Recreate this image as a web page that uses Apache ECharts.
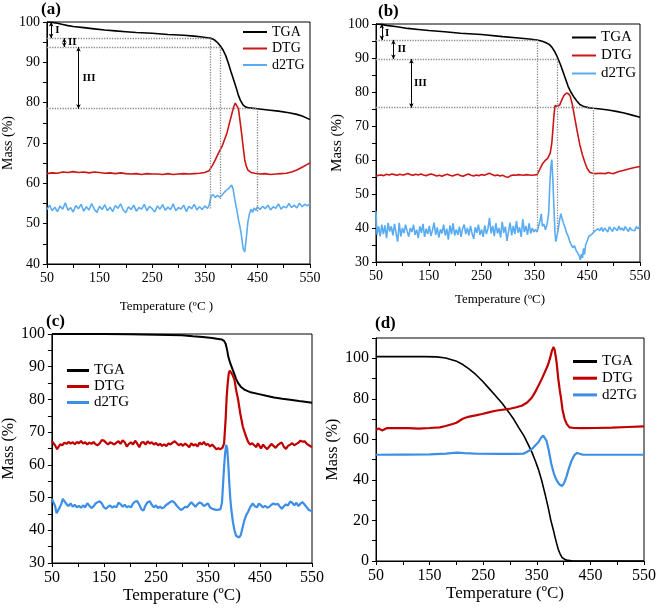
<!DOCTYPE html>
<html><head><meta charset="utf-8">
<script src="https://cdn.jsdelivr.net/npm/echarts@6/dist/echarts.min.js"></script>
<style>html,body{margin:0;padding:0;background:#fff}#c{width:659px;height:608px}</style>
</head><body><div id="c"></div>
<script>
// ---------- data (temperature °C, mass %) ----------
const aTGA = [[50,100],[60,99.9],[70,99.7],[80,99.4],[90,99.1],[100,98.9],[120,98.6],[140,98.3],[160,98.0],[180,97.8],[200,97.6],[220,97.4],[250,97.2],[280,96.9],[310,96.7],[330,96.5],[345,96.3],[355,96.1],[360,96.0],[365,95.8],[370,95.4],[375,94.8],[380,94.0],[385,93.0],[390,91.6],[395,89.7],[400,87.6],[405,85.6],[410,83.6],[414,81.8],[418,80.5],[423,79.4],[428,78.9],[435,78.7],[450,78.5],[470,78.2],[490,77.9],[510,77.5],[525,77.1],[535,76.7],[545,76.1],[550,75.8]];
const aDTG = [[50,62.4],[60,62.6],[70,62.5],[80,62.8],[90,62.7],[100,62.9],[110,62.7],[120,62.8],[130,62.6],[140,62.8],[150,62.7],[160,62.5],[170,62.6],[180,62.4],[190,62.6],[200,62.4],[210,62.3],[220,62.4],[230,62.2],[240,62.4],[250,62.3],[260,62.3],[270,62.2],[280,62.4],[290,62.2],[300,62.3],[310,62.4],[320,62.3],[330,62.4],[340,62.5],[350,62.7],[358,63.1],[365,64.5],[370,65.8],[376,67.5],[383,69.2],[388,71.0],[392,72.4],[397,75.0],[401,77.0],[405,79.0],[408,79.9],[411,80.2],[414,78.5],[417,75.5],[420,72.4],[423,69.0],[426,65.8],[429,64.2],[432,63.3],[438,62.7],[445,62.5],[455,62.3],[465,62.4],[475,62.2],[485,62.3],[495,62.4],[505,62.5],[515,62.8],[525,63.3],[535,64.0],[545,64.7],[550,65.1]];
const aD2TG = [[50,53.5],[55,54.6],[60,53.2],[65,54.1],[70,53.0],[75,54.4],[80,53.6],[85,55.2],[90,53.3],[95,54.0],[100,52.9],[105,54.5],[110,53.7],[115,54.8],[120,53.1],[125,54.2],[130,53.4],[135,55.0],[140,53.6],[145,52.8],[150,54.3],[155,53.5],[160,54.7],[165,53.2],[170,54.1],[175,53.0],[180,54.5],[185,53.8],[190,54.9],[195,53.4],[200,52.7],[205,54.2],[210,53.5],[215,54.6],[220,53.1],[225,54.0],[230,53.6],[235,54.8],[240,53.2],[245,54.3],[250,53.7],[255,52.9],[260,54.4],[265,53.6],[270,54.7],[275,53.3],[280,54.1],[285,53.5],[290,54.9],[295,53.2],[300,54.0],[305,53.6],[310,54.6],[315,53.0],[320,54.3],[325,53.7],[330,54.8],[335,53.4],[340,54.2],[345,53.5],[350,54.4],[355,53.8],[358,54.4],[362,56.8],[366,57.2],[370,56.5],[374,57.0],[378,56.6],[383,57.1],[388,57.9],[392,58.4],[396,58.8],[401,59.6],[404,58.5],[407,56.0],[411,53.4],[414,51.0],[417,49.2],[420,46.8],[423,43.8],[426,43.0],[429,46.5],[432,50.5],[435,52.5],[438,53.6],[441,52.8],[444,53.9],[447,53.3],[450,54.2],[455,53.5],[460,54.3],[465,53.7],[470,54.6],[475,53.4],[480,54.2],[485,53.8],[490,54.9],[495,53.6],[500,54.3],[505,53.9],[510,55.0],[515,54.0],[520,54.6],[525,53.9],[530,55.1],[535,54.2],[540,54.8],[545,54.4],[550,55.0]];

const bTGA = [[50,100],[60,99.9],[70,99.6],[90,99.2],[110,98.7],[130,98.4],[150,98.1],[180,97.7],[210,97.3],[250,96.9],[290,96.3],[320,95.9],[340,95.6],[355,95.3],[365,94.9],[372,94.5],[378,94.0],[383,93.2],[388,92.0],[392,90.8],[395,89.7],[400,87.8],[405,85.6],[410,83.4],[414,81.6],[419,80.0],[424,78.7],[430,77.4],[436,76.3],[444,75.7],[452,75.4],[462,75.2],[475,75.0],[490,74.7],[505,74.3],[520,73.8],[535,73.2],[550,72.6]];
const bDTG = [[50,55.2],[55,55.5],[60,55.6],[65,55.4],[70,55.8],[75,55.6],[80,55.9],[85,55.7],[90,55.5],[95,55.8],[100,55.6],[105,55.7],[110,56.0],[115,55.7],[120,55.5],[125,55.8],[130,55.6],[135,55.9],[140,55.6],[145,55.4],[150,55.7],[155,55.9],[160,55.6],[165,55.3],[170,55.5],[175,55.2],[180,55.6],[185,55.8],[190,55.5],[195,55.3],[200,55.6],[205,55.8],[210,55.4],[215,55.2],[220,55.6],[225,55.9],[230,55.5],[235,55.3],[240,55.6],[245,55.4],[250,55.7],[255,55.5],[260,55.8],[265,56.1],[270,55.7],[275,55.4],[280,55.6],[285,55.3],[290,55.5],[295,55.1],[300,54.9],[305,55.4],[310,55.6],[315,55.5],[320,55.7],[325,55.6],[330,55.5],[335,55.7],[340,55.6],[345,55.5],[350,55.6],[355,55.7],[360,57.2],[365,58.8],[370,59.8],[375,60.5],[380,62.0],[383,65.0],[385,68.9],[387,73.0],[389,76.0],[391,76.4],[393,75.8],[395,75.3],[398,76.2],[402,77.7],[406,79.0],[411,79.7],[415,79.4],[418,78.7],[422,76.2],[427,71.9],[431,68.5],[436,64.5],[441,61.5],[446,59.1],[450,57.5],[455,56.4],[460,56.1],[465,56.0],[475,56.1],[485,56.0],[490,56.3],[495,56.1],[500,56.0],[505,56.3],[510,56.6],[520,57.0],[530,57.4],[540,57.8],[550,58.1]];
const bD2TG = [[50,45.0],[52,38.0],[55,40.5],[58,37.5],[61,41.0],[64,38.2],[67,40.8],[70,37.0],[73,41.5],[76,39.0],[79,40.5],[82,37.8],[85,41.2],[88,38.5],[91,36.0],[94,41.5],[97,37.5],[100,40.0],[103,38.5],[106,41.0],[109,39.0],[112,37.5],[115,40.0],[118,38.8],[121,41.0],[124,38.0],[127,39.5],[130,37.0],[133,40.5],[136,38.6],[139,41.2],[142,37.4],[145,39.8],[148,38.2],[151,40.6],[154,37.6],[157,39.4],[160,41.6],[163,38.0],[166,40.2],[169,37.2],[172,39.6],[175,38.4],[178,41.0],[181,37.8],[184,39.8],[187,36.6],[190,40.8],[193,38.2],[196,41.4],[199,37.8],[202,39.6],[205,38.0],[208,40.4],[211,37.4],[214,39.8],[217,41.0],[220,38.2],[223,40.0],[226,37.8],[229,40.6],[232,38.4],[235,36.8],[238,40.2],[241,38.6],[244,41.0],[247,38.0],[250,39.6],[253,37.4],[256,40.8],[259,38.2],[262,39.8],[265,43.0],[268,38.4],[271,40.6],[274,37.6],[277,41.4],[280,38.4],[283,40.0],[286,37.2],[289,41.8],[292,38.6],[295,40.4],[298,36.2],[301,39.0],[304,41.6],[307,37.8],[310,40.6],[313,38.2],[316,42.0],[319,38.6],[322,40.2],[325,37.4],[328,42.6],[331,38.8],[334,40.6],[337,38.0],[340,41.4],[343,38.4],[346,40.0],[349,38.8],[352,39.6],[355,38.8],[358,40.5],[361,42.4],[363,44.2],[365,40.5],[368,41.2],[371,39.5],[374,41.0],[377,44.4],[379,52.0],[381,58.0],[383,60.1],[385,54.0],[387,46.0],[389,38.5],[390.5,36.0],[392,37.0],[395,39.5],[398,42.6],[400,44.2],[402,43.0],[405,41.4],[408,40.2],[411,38.5],[414,37.6],[417,36.0],[420,35.0],[423,34.2],[426,34.8],[429,33.4],[432,33.0],[435,31.8],[437,30.6],[439,32.4],[441,31.2],[443,34.0],[445,32.2],[447,35.0],[450,36.2],[453,37.5],[456,37.0],[459,38.2],[462,38.6],[465,39.2],[468,38.8],[471,39.8],[474,39.2],[477,40.2],[480,39.0],[483,40.0],[486,39.4],[489,38.8],[492,40.4],[495,39.6],[498,39.0],[501,40.2],[504,39.8],[507,39.2],[510,40.6],[513,39.4],[516,40.0],[519,39.2],[522,40.4],[525,39.6],[528,39.0],[531,40.2],[534,39.4],[537,39.8],[540,39.2],[543,40.4],[546,39.8],[550,40.6]];

const cTGA = [[50,100],[100,100],[150,100],[200,99.9],[250,99.8],[300,99.6],[321,99.3],[340,99.1],[358,98.8],[370,98.5],[377,98.3],[381,97.9],[384,97.0],[387,95.0],[389,93.1],[393,91.0],[399,88.5],[404,86.3],[408,85.0],[413,83.9],[421,82.9],[430,82.3],[446,81.7],[462,81.1],[477,80.6],[493,80.2],[508,79.9],[525,79.5],[540,79.2],[550,79.0]];
const cDTG = [[50,67.2],[53,67.0],[56,66.0],[60,64.8],[63,65.2],[66,66.3],[70,66.0],[74,66.8],[78,66.4],[82,67.0],[86,66.5],[90,66.9],[94,66.3],[98,67.0],[102,66.6],[106,67.3],[110,66.5],[114,66.9],[118,66.2],[122,66.8],[126,66.4],[130,67.0],[134,66.3],[138,66.0],[142,66.6],[146,67.6],[150,67.4],[154,66.8],[158,66.2],[162,66.9],[166,66.6],[170,66.2],[174,66.8],[178,67.2],[182,66.4],[186,67.5],[190,66.9],[194,65.6],[198,66.4],[202,66.9],[206,66.2],[210,67.4],[214,66.5],[218,65.4],[222,66.8],[226,67.0],[230,66.2],[234,67.2],[238,66.5],[242,66.9],[246,66.2],[250,66.7],[254,66.0],[258,66.4],[262,65.8],[266,66.3],[270,65.7],[274,66.6],[278,66.2],[282,66.8],[286,67.2],[290,66.6],[294,66.0],[298,66.4],[302,65.8],[306,66.5],[310,66.0],[314,65.4],[318,66.6],[322,65.9],[326,66.3],[330,65.6],[334,66.8],[338,66.2],[342,67.0],[346,66.1],[350,66.4],[354,65.6],[358,66.2],[362,65.5],[366,64.8],[370,65.1],[374,64.8],[378,65.3],[381,66.6],[384,74.0],[386,80.9],[388,85.0],[390,88.0],[392,88.8],[394,88.9],[397,87.6],[401,86.0],[404,83.0],[408,79.9],[412,75.8],[417,71.7],[422,69.2],[427,67.1],[431,66.2],[435,66.6],[439,66.0],[443,65.4],[446,66.6],[449,65.8],[452,65.0],[456,66.2],[460,65.4],[464,64.8],[468,65.6],[472,66.4],[476,65.8],[480,65.2],[484,66.0],[488,66.5],[492,66.8],[496,65.5],[500,64.9],[504,65.8],[508,66.2],[512,66.6],[516,66.0],[520,66.4],[524,66.8],[528,67.4],[532,67.1],[536,67.2],[540,66.4],[544,66.0],[548,65.6],[550,65.4]];
const cD2TG = [[50,49.6],[53,49.0],[56,47.5],[59,45.2],[62,45.4],[65,47.0],[68,48.0],[71,49.6],[74,49.0],[78,48.0],[82,47.4],[86,48.2],[90,47.2],[94,47.8],[98,47.0],[102,47.5],[106,46.9],[110,47.6],[114,47.0],[118,48.3],[122,47.5],[126,46.8],[130,47.3],[134,48.2],[138,48.6],[142,48.9],[146,48.2],[150,47.0],[154,46.6],[158,47.2],[162,47.6],[166,46.9],[170,47.4],[174,47.0],[178,48.4],[182,48.0],[186,47.2],[190,47.8],[194,47.0],[198,47.4],[202,47.0],[206,48.2],[210,48.8],[214,48.9],[218,47.8],[222,46.4],[226,46.0],[230,47.6],[234,48.6],[238,48.9],[242,47.8],[246,47.0],[250,47.6],[254,46.8],[258,47.2],[262,46.7],[266,47.1],[270,47.8],[274,48.2],[278,48.7],[282,48.9],[286,48.4],[290,47.5],[294,46.8],[298,46.2],[302,46.6],[306,47.2],[310,47.0],[314,47.8],[318,48.6],[322,47.9],[326,47.2],[330,48.0],[334,48.5],[338,48.2],[342,47.4],[346,47.8],[350,48.2],[354,47.0],[358,46.6],[362,46.4],[366,46.2],[370,46.3],[374,46.4],[377,48.5],[379,54.0],[381,59.5],[383,63.5],[385,66.1],[387,65.0],[389,60.5],[391,54.5],[393,49.5],[395,46.2],[398,42.5],[401,40.0],[404,38.3],[407,37.8],[410,37.8],[413,38.5],[416,40.5],[420,43.1],[424,44.8],[427,45.6],[431,47.0],[436,48.2],[440,47.4],[444,47.0],[448,48.2],[452,47.6],[456,47.0],[460,47.5],[464,46.9],[468,47.2],[472,47.8],[476,48.2],[480,47.9],[484,48.1],[488,47.3],[492,46.6],[496,47.4],[500,47.9],[504,47.6],[508,48.8],[512,48.4],[516,47.6],[520,48.4],[524,47.4],[528,48.2],[532,48.6],[536,47.8],[540,47.0],[544,46.2],[550,45.8]];

const dTGA = [[50,100.8],[100,100.8],[140,100.8],[163,100.7],[180,100.1],[199,98.7],[212,96.9],[224,94.6],[236,92.0],[248,88.9],[260,85.4],[273,81.5],[286,77.6],[298,73.3],[307,69.9],[316,65.9],[326,61.7],[335,56.9],[341,53.6],[347,49.6],[353,45.2],[359,39.8],[365,33.5],[371,26.7],[376,20.3],[381,15.2],[384,11.8],[387,8.7],[390,5.8],[393,3.8],[397,1.8],[402,0.8],[408,0.3],[415,0.1],[430,0],[550,0]];
const dDTG = [[50,64.8],[55,65.4],[58,64.6],[61,64.4],[64,65.3],[70,65.5],[90,65.6],[110,65.5],[130,65.3],[150,65.6],[169,65.9],[180,66.6],[193,67.6],[200,68.2],[206,69.2],[212,70.2],[218,70.8],[224,71.2],[236,71.8],[248,72.5],[260,73.3],[273,74.1],[286,74.6],[298,75.0],[310,75.7],[322,76.6],[332,78.2],[341,80.7],[348,83.8],[353,86.4],[360,90.2],[366,93.8],[371,96.8],[375,100.3],[378,103.5],[381,105.5],[383,104.5],[385,101.5],[387,97.8],[390,90.0],[393,84.0],[395,80.7],[398,74.5],[402,70.0],[406,67.5],[411,65.9],[420,65.6],[433,65.5],[460,65.6],[490,65.8],[520,66.1],[550,66.4]];
const dD2TG = [[50,52.4],[100,52.5],[150,52.6],[180,53.0],[201,53.5],[215,53.2],[240,52.9],[280,52.8],[310,52.8],[325,52.9],[333,54.0],[341,55.3],[347,57.0],[353,58.6],[358,60.8],[362,61.9],[365,61.2],[368,59.4],[372,55.0],[377,48.0],[382,43.0],[387,39.8],[392,37.8],[397,37.0],[401,38.4],[405,41.4],[410,45.8],[415,49.6],[420,52.2],[425,53.3],[430,52.9],[436,52.4],[550,52.4]];

// annotation levels (a) and (b): [T where the step ends, mass level, lower end of vertical guide]
const aLevels = [[360,96.0,53.6],[380,93.8,55.8],[450,78.5,53.0]];
const bLevels = [[355,95.3,39.5],[394,89.7,39.0],[462,75.4,38.7]];
const aArrows = [[58,100,96.0],[83,96.0,93.8],[110,93.8,78.5]];
const bArrows = [[61,100,95.3],[83,95.3,89.7],[117,89.7,75.4]];
const aMarks = [['I',70,97.9],['II',98,94.9],['III',130,86.2]];
const bMarks = [['I',71,97.4],['II',99,92.5],['III',134,82.6]];
const names = ['TGA','DTG','d2TG'];
const panelLabels = ['(a)','(b)','(c)','(d)'];

// ---------- styling ----------
const F = 'Liberation Serif';
const RED = '#cc1515', BLUE1 = '#5aacf2', BLUE2 = '#3c8ee6';
const grids = [
  {left:41, top:22, width:269, height:242},
  {left:376, top:24, width:264, height:238},
  {left:46, top:334, width:266, height:229},
  {left:376, top:338, width:271, height:223}
];
const yCfg = [
  {min:40,max:100,interval:5,step:10,gap:28,fs:14,lfs:14},
  {min:30,max:100,interval:5,step:10,gap:21,fs:15,lfs:14},
  {min:30,max:100,interval:5,step:10,gap:26,fs:16,lfs:16},
  {min:0,max:110,interval:10,step:20,gap:29,fs:16,lfs:16}
];
const xCfg = [
  {name:'Temperature (ºC )',gap:36,fs:13,lfs:14,pad:[0,24,0,0]},
  {name:'Temperature (ºC)',gap:31,fs:13,lfs:14,pad:[0,16,0,0]},
  {name:'Temperature (ºC)',gap:23,fs:17,lfs:16,pad:[0,0,0,0]},
  {name:'Temperature (ºC)',gap:23,fs:17,lfs:16,pad:[0,10,0,0]}
];
const xAxis = xCfg.map((c,i)=>({
  gridIndex:i,type:'value',min:50,max:550,interval:50,
  name:c.name,nameLocation:'middle',nameGap:c.gap,
  nameTextStyle:{fontFamily:F,fontSize:c.fs,color:'#000',padding:c.pad},
  axisLine:{onZero:false,lineStyle:{color:'#000',width:1}},
  axisTick:{length:4,lineStyle:{color:'#000'}},
  axisLabel:{fontFamily:F,fontSize:c.lfs,color:'#000',margin:7,formatter:v=>((v-50)%100===0?String(v):'')},
  splitLine:{show:false}
}));
const yAxis = yCfg.map((c,i)=>({
  gridIndex:i,type:'value',min:c.min,max:c.max,interval:c.interval,
  name:'Mass (%)',nameLocation:'middle',nameGap:c.gap,
  nameTextStyle:{fontFamily:F,fontSize:c.fs,color:'#000'},
  axisLine:{onZero:false,lineStyle:{color:'#000',width:1}},
  axisTick:{length:4,lineStyle:{color:'#000'}},
  axisLabel:{fontFamily:F,fontSize:c.lfs,color:'#000',margin:7,
    formatter:v=>((v-c.min)%c.step===0 && v<=100 ? String(v):'')},
  splitLine:{show:false}
}));

function line(name,data,gi,color,width){
  return {type:'line',name:name,data:data,xAxisIndex:gi,yAxisIndex:gi,symbol:'none',showSymbol:false,
    lineStyle:{color:color,width:width},itemStyle:{color:color},animation:false,silent:true};
}
function annot(gi,levels,arrows,marks){
  const dotted = {type:'dotted',color:'#8a8a8a',width:1.3};
  const ml = [];
  levels.forEach(l=>{
    ml.push([{coord:[50,l[1]],lineStyle:dotted},{coord:[l[0],l[1]]}]);
    ml.push([{coord:[l[0],l[1]],lineStyle:dotted},{coord:[l[0],l[2]]}]);
  });
  const arr = arrows.map(a=>[{coord:[a[0],a[1]]},{coord:[a[0],a[2]]}]);
  return [
    {type:'line',name:'lv'+gi,data:[],xAxisIndex:gi,yAxisIndex:gi,silent:true,animation:false,
      markLine:{silent:true,symbol:['none','none'],label:{show:false},animation:false,data:ml}},
    {type:'line',name:'ar'+gi,data:[],xAxisIndex:gi,yAxisIndex:gi,silent:true,animation:false,
      markLine:{silent:true,symbol:['arrow','arrow'],symbolSize:[3.5,4.5],label:{show:false},animation:false,
        lineStyle:{type:'solid',color:'#000',width:1},data:arr},
      markPoint:{silent:true,symbol:'circle',symbolSize:0,animation:false,
        label:{show:true,position:'inside',formatter:'{b}',fontFamily:F,fontWeight:'bold',fontSize:11,color:'#000'},
        data:marks.map(m=>({name:m[0],coord:[m[1],m[2]]}))}}
  ];
}

const series = [
  line('TGA',aTGA,0,'#000',1.6), line('DTG',aDTG,0,RED,1.6), line('d2TG',aD2TG,0,BLUE1,1.6),
  line('TGA',bTGA,1,'#000',1.6), line('DTG',bDTG,1,RED,1.6), line('d2TG',bD2TG,1,BLUE1,1.6),
  line('TGA',cTGA,2,'#000',2), line('DTG',cDTG,2,'#c00000',2.2), line('d2TG',cD2TG,2,BLUE2,2.2),
  line('TGA',dTGA,3,'#000',1.6), line('DTG',dDTG,3,'#c00000',2.2), line('d2TG',dD2TG,3,BLUE2,2.2)
].concat(annot(0,aLevels,aArrows,aMarks)).concat(annot(1,bLevels,bArrows,bMarks));

function legend(left,top,fs,gap,w,h,cols){
  return {left:left,top:top,orient:'vertical',itemWidth:w,itemHeight:h,itemGap:gap,icon:'rect',
    padding:0,selectedMode:false,textStyle:{fontFamily:F,fontSize:fs,color:'#000'},
    data:names.map((n,k)=>({name:n,itemStyle:{color:cols[k]}}))};
}
const option = {
  backgroundColor:'#fff',animation:false,
  title:panelLabels.map((t,i)=>({text:t,left:[41,378,46,375][i],top:[1,3,313,315][i],padding:0,
    textStyle:{fontFamily:F,fontWeight:'bold',fontSize:17,color:'#000'}})),
  grid:grids.map(g=>Object.assign({show:true,borderColor:'#000',borderWidth:1,backgroundColor:'transparent'},g)),
  xAxis:xAxis,yAxis:yAxis,
  legend:[
    legend(243,25,14,2.5,24,2,['#000',RED,BLUE1]),
    legend(572,30,15,3,24,2,['#000',RED,BLUE1]),
    legend(67,363,15,1,22,3,['#000','#c00000',BLUE2]),
    legend(573,354,15,1.7,24,3,['#000','#c00000',BLUE2])
  ],
  series:series
};
const chart = echarts.init(document.getElementById('c'),null,{renderer:'canvas'});
chart.setOption(option);
</script></body></html>
